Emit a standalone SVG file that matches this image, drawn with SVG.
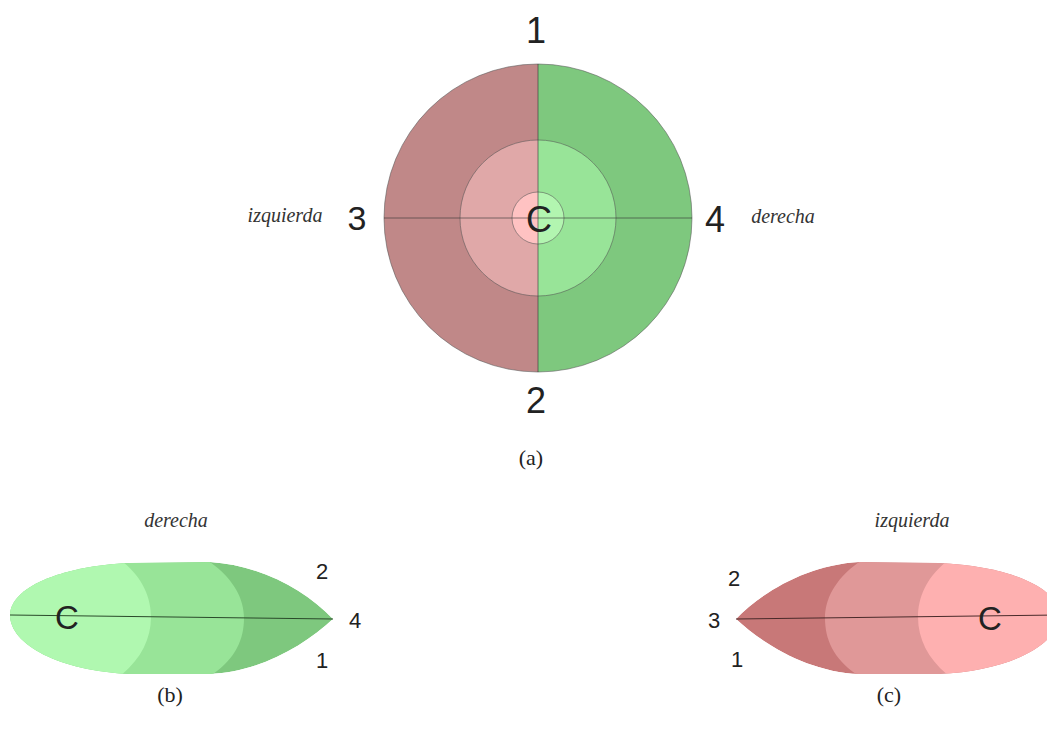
<svg xmlns="http://www.w3.org/2000/svg" width="1047" height="738" viewBox="0 0 1047 738">
<style>
.num{font-family:"Liberation Sans",Arial,sans-serif;fill:#222;text-anchor:middle}
.it{font-family:"Liberation Serif","Times New Roman",serif;font-style:italic;fill:#333;font-size:20px;text-anchor:middle}
.cap{font-family:"Liberation Serif","Times New Roman",serif;fill:#222;font-size:22px;text-anchor:middle}
.ring{stroke:#555;stroke-width:0.8;stroke-opacity:0.7}
.axis{stroke:#333;stroke-width:1;stroke-opacity:0.6;fill:none}
</style>
<defs>
<clipPath id="leftHalf"><rect x="0" y="0" width="538" height="738"/></clipPath>
<clipPath id="rightHalf"><rect x="538" y="0" width="509" height="738"/></clipPath>
<path id="outline" d="M 10 615 C 10 588, 60 566, 130 563 L 210 562 C 260 565, 305 590, 333 619 C 305 645, 260 672, 210 674 L 130 674 C 60 671, 10 645, 10 615 Z"/>
<clipPath id="shapeClip"><use href="#outline"/></clipPath>
<path id="midReg" d="M 0 550 L 210 550 L 210 562 C 235 580, 244 600, 244 618 C 244 640, 235 660, 210 676 L 210 690 L 0 690 Z"/>
<path id="lightReg" d="M 0 550 L 123 550 L 123 562 C 143 578, 151 598, 151 617 C 151 640, 140 660, 120 676 L 120 690 L 0 690 Z"/>
</defs>
<rect width="1047" height="738" fill="#ffffff"/>

<g id="diagram-a">
<g clip-path="url(#leftHalf)">
<circle cx="538" cy="218" r="154" fill="#c08888" class="ring"/>
<circle cx="538" cy="218" r="78" fill="#e0a8a8" class="ring"/>
<circle cx="538" cy="218" r="26" fill="#ffc2c2" class="ring"/>
</g>
<g clip-path="url(#rightHalf)">
<circle cx="538" cy="218" r="154" fill="#7ec87e" class="ring"/>
<circle cx="538" cy="218" r="78" fill="#98e498" class="ring"/>
<circle cx="538" cy="218" r="26" fill="#b2f5b0" class="ring"/>
</g>
<line x1="384" y1="218" x2="692" y2="218" class="axis"/>
<line x1="538" y1="64" x2="538" y2="372" class="axis"/>
<text x="539" y="232" class="num" font-size="36">C</text>
<text x="536" y="43" class="num" font-size="36">1</text>
<text x="536" y="413" class="num" font-size="36">2</text>
<text x="357" y="230" class="num" font-size="34">3</text>
<text x="715" y="232" class="num" font-size="36">4</text>
<text x="285" y="222" class="it">izquierda</text>
<text x="783" y="223" class="it">derecha</text>
<text x="531" y="465" class="cap">(a)</text>
</g>

<g id="diagram-b">
<g clip-path="url(#shapeClip)">
<use href="#outline" fill="#7ec87e"/>
<use href="#midReg" fill="#98e498"/>
<use href="#lightReg" fill="#b0f8b0"/>
</g>
<line x1="10" y1="615" x2="333" y2="619" stroke="#2a4a2a" stroke-width="1"/>
<text x="67" y="629" class="num" font-size="33">C</text>
<text x="322" y="579" class="num" font-size="22">2</text>
<text x="355" y="628" class="num" font-size="22">4</text>
<text x="322" y="668" class="num" font-size="22">1</text>
<text x="176" y="527" class="it" font-size="18">derecha</text>
<text x="170" y="702" class="cap">(b)</text>
</g>

<g id="diagram-c">
<g transform="translate(1069,0) scale(-1,1)">
<g clip-path="url(#shapeClip)">
<use href="#outline" fill="#c87878"/>
<use href="#midReg" fill="#e09898"/>
<use href="#lightReg" fill="#feb0b0"/>
</g>
<line x1="10" y1="615" x2="333" y2="619" stroke="#4a2a2a" stroke-width="1"/>
</g>
<text x="990" y="630" class="num" font-size="33">C</text>
<text x="734" y="586" class="num" font-size="22">2</text>
<text x="714" y="628" class="num" font-size="22">3</text>
<text x="737" y="667" class="num" font-size="22">1</text>
<text x="912" y="527" class="it" font-size="18">izquierda</text>
<text x="889" y="702" class="cap">(c)</text>
</g>
</svg>
